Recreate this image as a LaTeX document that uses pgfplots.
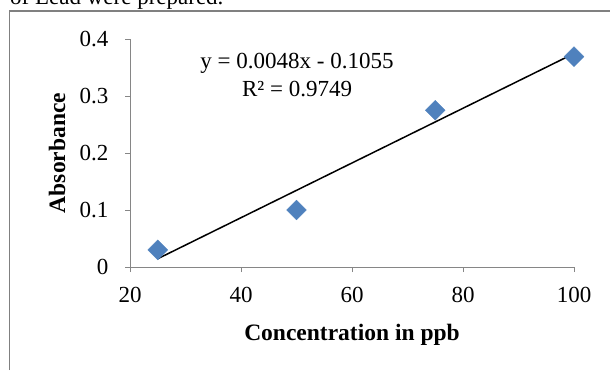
\documentclass[border=0pt]{standalone}
\usepackage{fontspec}
\setmainfont{Liberation Serif}
\usepackage{pgfplots}
\pgfplotsset{compat=1.18}
\definecolor{mblue}{RGB}{79,129,189}
\definecolor{axgray}{RGB}{134,134,134}
\definecolor{framegray}{RGB}{128,128,128}
\begin{document}
\begin{tikzpicture}[x=1pt,y=1pt]
\useasboundingbox (0,0) rectangle (610,370);
% cropped page text and frame
\node[anchor=base west, inner sep=0pt, font=\fontsize{23}{28}\selectfont] at (10,365) {of Lead were prepared.};
\draw[framegray, line width=1.5pt] (9.5,0) -- (9.5,359) -- (611,359);
\begin{axis}[
  at={(130pt,103pt)}, anchor=south west,
  scale only axis, width=444pt, height=228pt,
  xmin=20, xmax=100, ymin=0, ymax=0.4,
  xtick={20,40,60,80,100}, ytick={0,0.1,0.2,0.3,0.4},
  axis lines*=left,
  axis line style={axgray, line width=1pt, -},
  tick style={axgray, line width=1pt},
  tick align=outside, major tick length=5pt,
  /pgf/number format/assume math mode=true,
  /pgf/number format/.cd, fixed, precision=1, /pgfplots/.cd,
  tick label style={font=\fontsize{23}{28}\selectfont, black},
  yticklabel style={xshift=-13pt},
  xticklabel style={yshift=-12pt},
  every axis x label/.style={at={(axis description cs:0.5,-0.298)}, anchor=center},
  every axis y label/.style={at={(axis description cs:-0.1644,0.5)}, anchor=center, rotate=90},
  label style={font=\fontsize{23.5}{28}\selectfont\bfseries},
  xlabel={Concentration in ppb},
  ylabel={Absorbance},
  clip=false,
]
\addplot[black, line width=1.5pt, no marks] coordinates {(25,0.0145) (100,0.3745)};
\addplot[only marks, mark=square*, mark size=7pt, mark options={rotate=45, fill=mblue, draw=mblue}] coordinates {
(25,0.030) (50,0.100) (75,0.275) (100,0.369)
};
\node[align=center, font=\fontsize{23}{28}\selectfont] at (axis cs:50.1,0.336) {y = 0.0048x - 0.1055\\R² = 0.9749};
\end{axis}
\end{tikzpicture}
\end{document}
